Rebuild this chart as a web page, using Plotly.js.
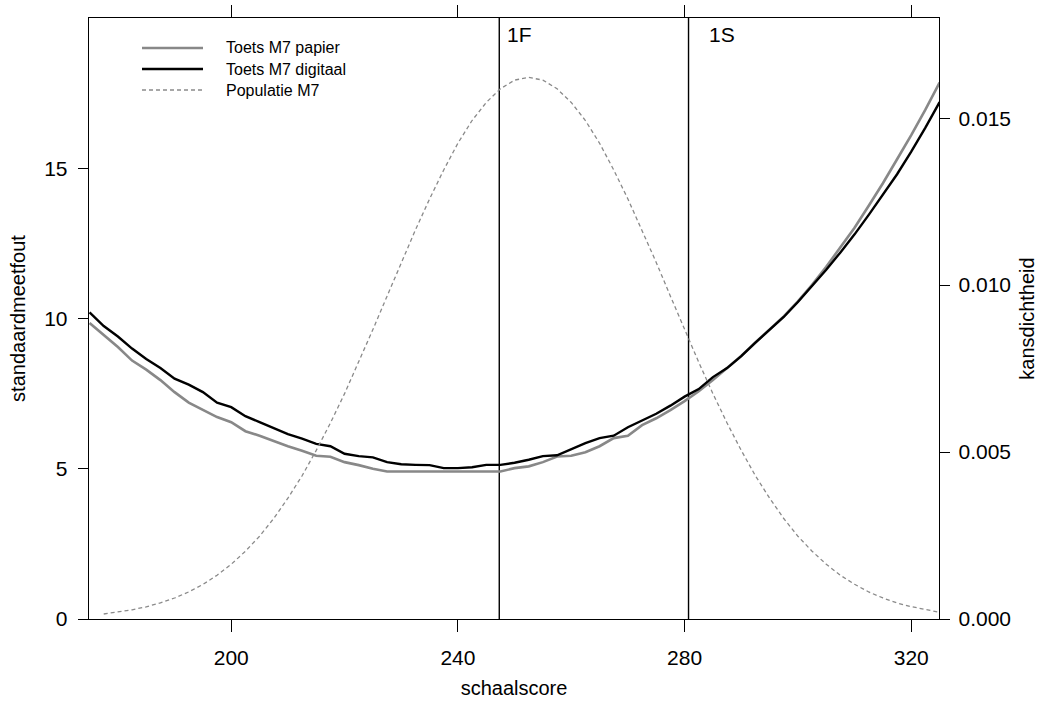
<!DOCTYPE html>
<html>
<head>
<meta charset="utf-8">
<script src="https://cdn.plot.ly/plotly-3.0.1.min.js"></script>
<style>html,body{margin:0;padding:0;background:#fff;}#chart{width:1044px;height:709px;}</style>
</head>
<body>
<div id="chart"></div>
<script>
// schaalscore grid
const scores = [175,177.5,180,182.5,185,187.5,190,192.5,195,197.5,200,202.5,205,207.5,210,212.5,215,217.5,220,222.5,225,227.5,230,232.5,235,237.5,240,242.5,245,247.5,250,252.5,255,257.5,260,262.5,265,267.5,270,272.5,275,277.5,280,282.5,285,287.5,290,292.5,295,297.5,300,302.5,305,307.5,310,312.5,315,317.5,320,322.5,325];
// standaardmeetfout, papier
const semPapier = [9.85,9.45,9.05,8.6,8.3,7.95,7.55,7.2,6.95,6.72,6.55,6.25,6.1,5.92,5.75,5.6,5.43,5.4,5.22,5.12,5.0,4.91,4.91,4.91,4.91,4.91,4.91,4.91,4.91,4.91,5.02,5.08,5.22,5.41,5.43,5.55,5.75,6.02,6.1,6.45,6.68,6.95,7.25,7.58,7.95,8.35,8.75,9.2,9.62,10.07,10.57,11.12,11.72,12.35,13.02,13.75,14.5,15.3,16.1,16.95,17.85];
// standaardmeetfout, digitaal
const semDigitaal = [10.2,9.75,9.4,9.0,8.65,8.35,8.0,7.8,7.55,7.2,7.05,6.75,6.55,6.35,6.15,6.0,5.83,5.75,5.5,5.42,5.38,5.22,5.15,5.13,5.12,5.02,5.02,5.05,5.13,5.13,5.2,5.3,5.42,5.45,5.65,5.85,6.02,6.1,6.38,6.6,6.83,7.1,7.4,7.65,8.05,8.35,8.75,9.2,9.62,10.05,10.55,11.08,11.62,12.2,12.8,13.45,14.12,14.8,15.55,16.35,17.2];
// kansdichtheid populatie
const popScores = [177.5,180,182.5,185,187.5,190,192.5,195,197.5,200,202.5,205,207.5,210,212.5,215,217.5,220,222.5,225,227.5,230,232.5,235,237.5,240,242.5,245,247.5,250,252.5,255,257.5,260,262.5,265,267.5,270,272.5,275,277.5,280,282.5,285,287.5,290,292.5,295,297.5,300,302.5,305,307.5,310,312.5,315,317.5,320,322.5,325];
const popDensity = [0.00015,0.000204,0.000275,0.000366,0.000482,0.000629,0.000811,0.001036,0.00131,0.00164,0.00203,0.00248,0.00301,0.00362,0.00429,0.00505,0.00587,0.00675,0.00769,0.00867,0.00967,0.01068,0.01165,0.01258,0.01345,0.01425,0.01493,0.01547,0.01588,0.01614,0.01622,0.01614,0.01588,0.01547,0.01493,0.01425,0.01345,0.01258,0.01165,0.01068,0.00967,0.00867,0.00769,0.00675,0.00587,0.00505,0.00429,0.00362,0.00301,0.00248,0.00203,0.00164,0.00131,0.00104,0.00081,0.00063,0.00048,0.00037,0.00028,0.0002];
// cut-off scores
const cutLabels = ['1F','1S'];
const cutScores = [247.3, 280.7];
// tick labels
const xTicks = [200,240,280,320];
const yTicks = [0,5,10,15];
const y2Ticks = [0,0.005,0.010,0.015];
const y2TickText = ['0.000','0.005','0.010','0.015'];
const seriesNames = ['Toets M7 papier','Toets M7 digitaal','Populatie M7'];

const FONT = 'Liberation Sans, Arial, sans-serif';
const DASH = '4px,3px';
const traces = [];
cutScores.forEach(function(c){
  traces.push({x:[c,c], y:[0,20], mode:'lines', line:{color:'#000', width:1.4}, showlegend:false, hoverinfo:'skip'});
});
traces.push({x:popScores, y:popDensity, yaxis:'y2', mode:'lines', name:seriesNames[2], line:{color:'#8a8a8a', width:1.3, dash:DASH}, showlegend:false});
traces.push({x:scores, y:semPapier, mode:'lines', name:seriesNames[0], line:{color:'#888888', width:2.6}, showlegend:false});
traces.push({x:scores, y:semDigitaal, mode:'lines', name:seriesNames[1], line:{color:'#000000', width:2.4}, showlegend:false});

// custom legend (paper coords)
const L = 89, R = 939, T = 18, B = 619;
function px(xp){ return (xp - L)/(R - L); }
function py(yp){ return (B - yp)/(B - T); }
const legendStyles = [
  {color:'#888888', width:2.6, dash:'solid'},
  {color:'#000000', width:2.4, dash:'solid'},
  {color:'#8a8a8a', width:1.3, dash:DASH}
];
const legendY = [48, 69, 90];
const shapes = [];
const annotations = [];
seriesNames.forEach(function(n,i){
  shapes.push({type:'line', xref:'paper', yref:'paper', x0:px(142), x1:px(203), y0:py(legendY[i]), y1:py(legendY[i]), line:legendStyles[i]});
  annotations.push({xref:'paper', yref:'paper', x:px(224), y:py(legendY[i]), xanchor:'left', yanchor:'middle', text:n, showarrow:false, font:{family:FONT, size:16, color:'#000'}});
});
cutLabels.forEach(function(lab,i){
  annotations.push({xref:'x', yref:'paper', x:cutScores[i], y:py(35), xanchor:'left', yanchor:'middle', xshift: i===0 ? 6 : 18, text:lab, showarrow:false, font:{family:FONT, size:21, color:'#000'}});
});

const layout = {
  width:1044, height:709,
  margin:{l:L, r:1044-R, t:T, b:709-B},
  paper_bgcolor:'#fff', plot_bgcolor:'#fff',
  font:{family:FONT, size:21, color:'#000'},
  showlegend:false,
  xaxis:{range:[174.9,324.9], tickvals:xTicks, ticktext:xTicks.map(String), ticks:'outside', ticklen:12, tickwidth:1, tickcolor:'#000',
    showline:true, linecolor:'#000', linewidth:1.3, mirror:'ticks', showgrid:false, zeroline:false, ticklabelstandoff:7,
    title:{text:'schaalscore', font:{size:20}, standoff:13}},
  yaxis:{range:[0,20], tickvals:yTicks, ticks:'outside', ticklen:10, tickwidth:1, tickcolor:'#000',
    showline:true, linecolor:'#000', linewidth:1.3, showgrid:false, zeroline:false, ticklabelstandoff:6,
    title:{text:'standaardmeetfout', font:{size:20}, standoff:13}},
  yaxis2:{range:[0,0.01800], overlaying:'y', side:'right', tickvals:y2Ticks, ticktext:y2TickText, ticks:'outside', ticklen:10, tickwidth:1, tickcolor:'#000',
    showline:true, linecolor:'#000', linewidth:1.3, showgrid:false, zeroline:false, ticklabelstandoff:4,
    title:{text:'kansdichtheid', font:{size:20}, standoff:10}},
  shapes:shapes,
  annotations:annotations
};
Plotly.newPlot('chart', traces, layout, {displayModeBar:false, staticPlot:true});
</script>
</body>
</html>
